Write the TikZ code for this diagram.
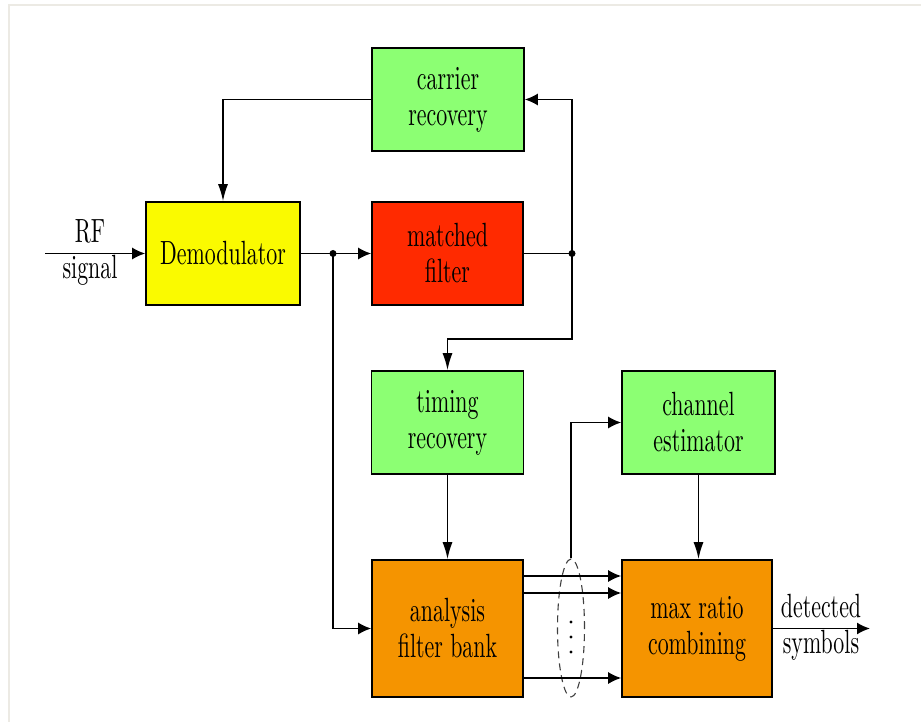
\documentclass[tikz,border=0pt]{standalone}
\usetikzlibrary{arrows.meta,shapes.geometric}
\definecolor{bgreen}{RGB}{140,255,115}
\definecolor{byellow}{RGB}{250,250,0}
\definecolor{bred}{RGB}{255,42,0}
\definecolor{borange}{RGB}{245,148,0}
\definecolor{framec}{RGB}{236,234,228}
\begin{document}
\begin{tikzpicture}[x=1pt,y=-1pt,
  blk/.style={draw=black, line width=1.6pt, inner sep=0pt},
  txt/.style={font=\fontsize{10}{10.71}\selectfont, align=center, xscale=2.19, yscale=3.36, inner sep=0pt},
  lnk/.style={line width=1.6pt},
  harr/.style={lnk, -{Latex[length=13pt,width=12pt]}},
  varr/.style={lnk, -{Latex[length=17pt,width=10pt]}}]
\useasboundingbox (0,0) rectangle (921,722);
\draw[framec, line width=2pt] (9,722) -- (9,5) -- (921,5);
% boxes
\node[blk, fill=bgreen, minimum width=152pt, minimum height=103pt] (car) at (448,99.5) {};
\node[blk, fill=byellow, minimum width=154pt, minimum height=103pt] (dem) at (223,253.5) {};
\node[blk, fill=bred, minimum width=151pt, minimum height=103pt] (mf) at (447.5,253.5) {};
\node[blk, fill=bgreen, minimum width=152pt, minimum height=103pt] (tim) at (447.5,422.5) {};
\node[blk, fill=borange, minimum width=151pt, minimum height=137pt] (afb) at (447.5,628.5) {};
\node[blk, fill=bgreen, minimum width=153pt, minimum height=103pt] (ch) at (698.5,422.5) {};
\node[blk, fill=borange, minimum width=150pt, minimum height=137pt] (mrc) at (697,628.5) {};
% box texts
\node[txt] (cart) at (car) {carrier\\recovery};
\node[txt] (demt) at (dem) {Demodulator};
\node[txt] (mft) at (mf) {matched\\filter};
\node[txt] (timt) at (tim) {timing\\recovery};
\node[txt] (afbt) at (afb) {analysis\\filter bank};
\node[txt] (cht) at (ch) {channel\\estimator};
\node[txt] (mrct) at (mrc) {max ratio\\combining};
% outside labels
\node[txt, anchor=base] (rf) at (90,243) {RF};
\node[txt, anchor=base] (sig) at (90,278) {signal};
\node[txt, anchor=base] (det) at (821,617) {detected};
\node[txt, anchor=base] (sym) at (821,653) {symbols};
% coordinates
\coordinate (rfin) at (45,253.5);
\coordinate (j1) at (333,253.5);
\coordinate (j2) at (572,253.5);
\coordinate (bend) at (572,339);
\coordinate (out) at (870,628.5);
% ellipse
\node[draw=black!75, dashed, dash pattern=on 7pt off 5pt, line width=1.1pt, ellipse, minimum width=27pt, minimum height=138pt, inner sep=0pt] (ell) at (571,628) {};
\fill (571,622) circle (1.6) (571,637) circle (1.6) (571,652) circle (1.6);
% connectors
\draw[harr] (rfin) -- (dem.west);
\draw[varr] (car.west) -| (dem.north);
\draw[harr] (dem.east) -- (mf.west);
\draw[harr] (j1) |- (afb.west);
\draw[lnk] (mf.east) -- (j2);
\draw[harr] (j2) |- (car.east);
\draw[varr] (j2) -- (bend) -| (tim.north);
\draw[varr] (tim.south) -- (afb.north);
\draw[varr] (ch.south) -- (ch.south |- mrc.north);
\draw[harr] (afb.east |- 0,576) -- (mrc.west |- 0,576);
\draw[harr] (afb.east |- 0,593) -- (mrc.west |- 0,593);
\draw[harr] (afb.east |- 0,678) -- (mrc.west |- 0,678);
\draw[harr] (ell.north) |- (ch.west);
\draw[harr] (mrc.east) -- (out);
\fill (j1) circle (3.5);
\fill (j2) circle (3.5);
\end{tikzpicture}
\end{document}
